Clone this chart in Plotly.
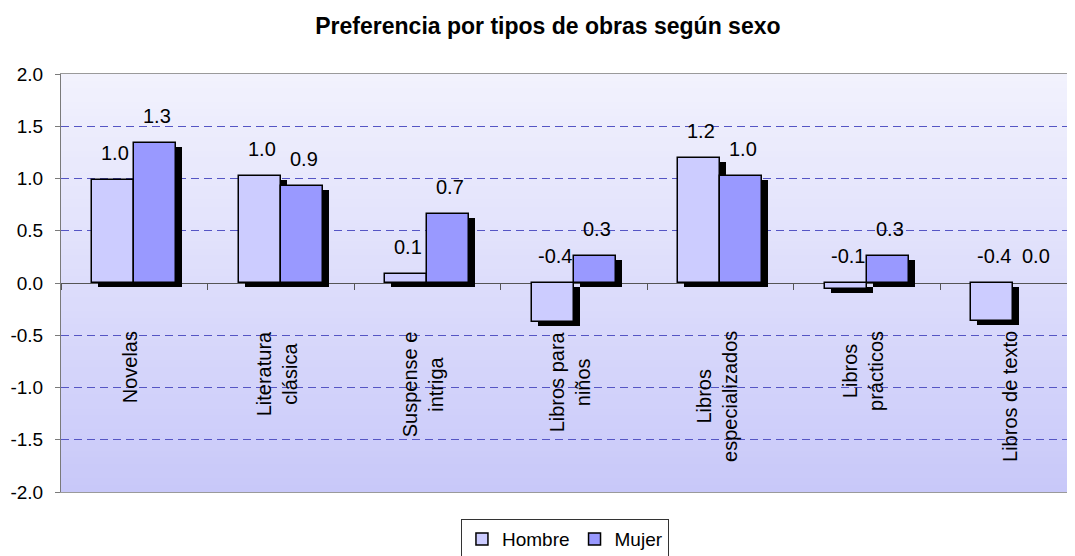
import plotly.graph_objects as go

categories = ["Novelas", "Literatura<br>clásica", "Suspense e<br>intriga", "Libros para<br>niños",
              "Libros<br>especializados", "Libros<br>prácticos", "Libros de texto"]
hombre = [0.99, 1.02, 0.09, -0.37, 1.20, -0.06, -0.36]
mujer = [1.34, 0.93, 0.66, 0.26, 1.02, 0.26, 0.0]
y_ticks = [-2.0, -1.5, -1.0, -0.5, 0.0, 0.5, 1.0, 1.5, 2.0]
y_tick_labels = ["-2.0", "-1.5", "-1.0", "-0.5", "0.0", "0.5", "1.0", "1.5", "2.0"]
title = "Preferencia por tipos de obras según sexo"

FONT = "Arial, Liberation Sans, sans-serif"
C_H = "#CCCCFF"
C_M = "#9999FF"

xpos = list(range(len(categories)))
bw = 0.2865          # bar width in category units
sdx = 0.041          # shadow offset x (category units)
sdy = 0.038          # shadow offset y (value units)

fig = go.Figure()

# shadows
for vals, off in [(hombre, -bw), (mujer, 0.0)]:
    fig.add_trace(go.Bar(x=xpos, y=vals, base=[-sdy] * len(vals), width=bw, offset=off + sdx,
                         marker=dict(color="black", line=dict(width=0)),
                         showlegend=False, hoverinfo="skip"))
# bars
for vals, off, name, col in [(hombre, -bw, "Hombre", C_H), (mujer, 0.0, "Mujer", C_M)]:
    fig.add_trace(go.Bar(x=xpos, y=vals, width=bw, offset=off, name=name,
                         marker=dict(color=col, line=dict(color="black",
                                                          width=[1.5 if v != 0 else 0 for v in vals]))))

# dummy trace for the zero-line tick axis
fig.add_trace(go.Scatter(x=[-0.5, 6.5], y=[0, 0], xaxis="x2", mode="lines",
                         line=dict(width=0), showlegend=False, hoverinfo="skip"))

annotations = []
for vals, off in [(hombre, -bw / 2), (mujer, bw / 2)]:
    for i, v in enumerate(vals):
        annotations.append(dict(x=i + off, y=max(v, 0), xref="x", yref="y",
                                text=f"{v:.1f}", showarrow=False, yanchor="middle",
                                yshift=27, xshift=2,
                                font=dict(family=FONT, size=20, color="black")))
for i, c in enumerate(categories):
    annotations.append(dict(x=i, y=0, xref="x", yref="y", text=c, showarrow=False,
                            textangle=-90, yanchor="top", xanchor="center", yshift=-46,
                            xshift=-4, align="center",
                            font=dict(family=FONT, size=20, color="black")))

# gradient background
shapes = []
N = 60
top = (242, 242, 253)
bot = (200, 200, 249)
for k in range(N):
    t = (k + 0.5) / N
    col = tuple(round(bot[j] + (top[j] - bot[j]) * t) for j in range(3))
    shapes.append(dict(type="rect", xref="paper", yref="paper", x0=0, x1=1,
                       y0=k / N, y1=(k + 1) / N + 0.002, layer="below",
                       line=dict(width=0), fillcolor="rgb(%d,%d,%d)" % col))

fig.update_layout(
    width=1067, height=548,
    margin=dict(l=53, r=0, t=66, b=64, autoexpand=False),
    paper_bgcolor="white", plot_bgcolor="rgba(0,0,0,0)",
    barmode="overlay", bargap=0,
    title=dict(text="<b>" + title + "</b>", x=0.506, xanchor="center", y=0.967, yanchor="middle",
               font=dict(family=FONT, size=23, color="black")),
    font=dict(family=FONT, size=19, color="black"),
    xaxis=dict(range=[-0.5, 6.42], showticklabels=False, ticks="", showgrid=False,
               zeroline=False, showline=True, mirror=True, linecolor="#9a9a9a", linewidth=1),
    xaxis2=dict(overlaying="x", matches="x", anchor="free", position=0.5,
                tickvals=[i + 0.5 for i in range(-1, len(categories))],
                showticklabels=False, ticks="outside", ticklen=6, tickcolor="#555555",
                tickwidth=1, showgrid=False, zeroline=False, showline=False),
    yaxis=dict(range=[-2, 2], tickvals=y_ticks, ticktext=y_tick_labels,
               showgrid=True, gridcolor="#5555C4", griddash="8px,5px", gridwidth=1,
               zeroline=True, zerolinecolor="#555555", zerolinewidth=1,
               showline=True, linecolor="#7a7a7a", linewidth=1,
               ticks="outside", ticklen=5, tickcolor="#7a7a7a",
               ticklabelstandoff=8,
               tickfont=dict(family=FONT, size=19, color="black")),
    legend=dict(orientation="h", x=0.497, xanchor="center", y=-0.065, yanchor="top",
                bordercolor="#333333", borderwidth=1, bgcolor="white",
                font=dict(family=FONT, size=19, color="black"),
                itemwidth=30, tracegroupgap=0),
    annotations=annotations,
    shapes=shapes,
    showlegend=True,
)

fig.write_html("out.html")
